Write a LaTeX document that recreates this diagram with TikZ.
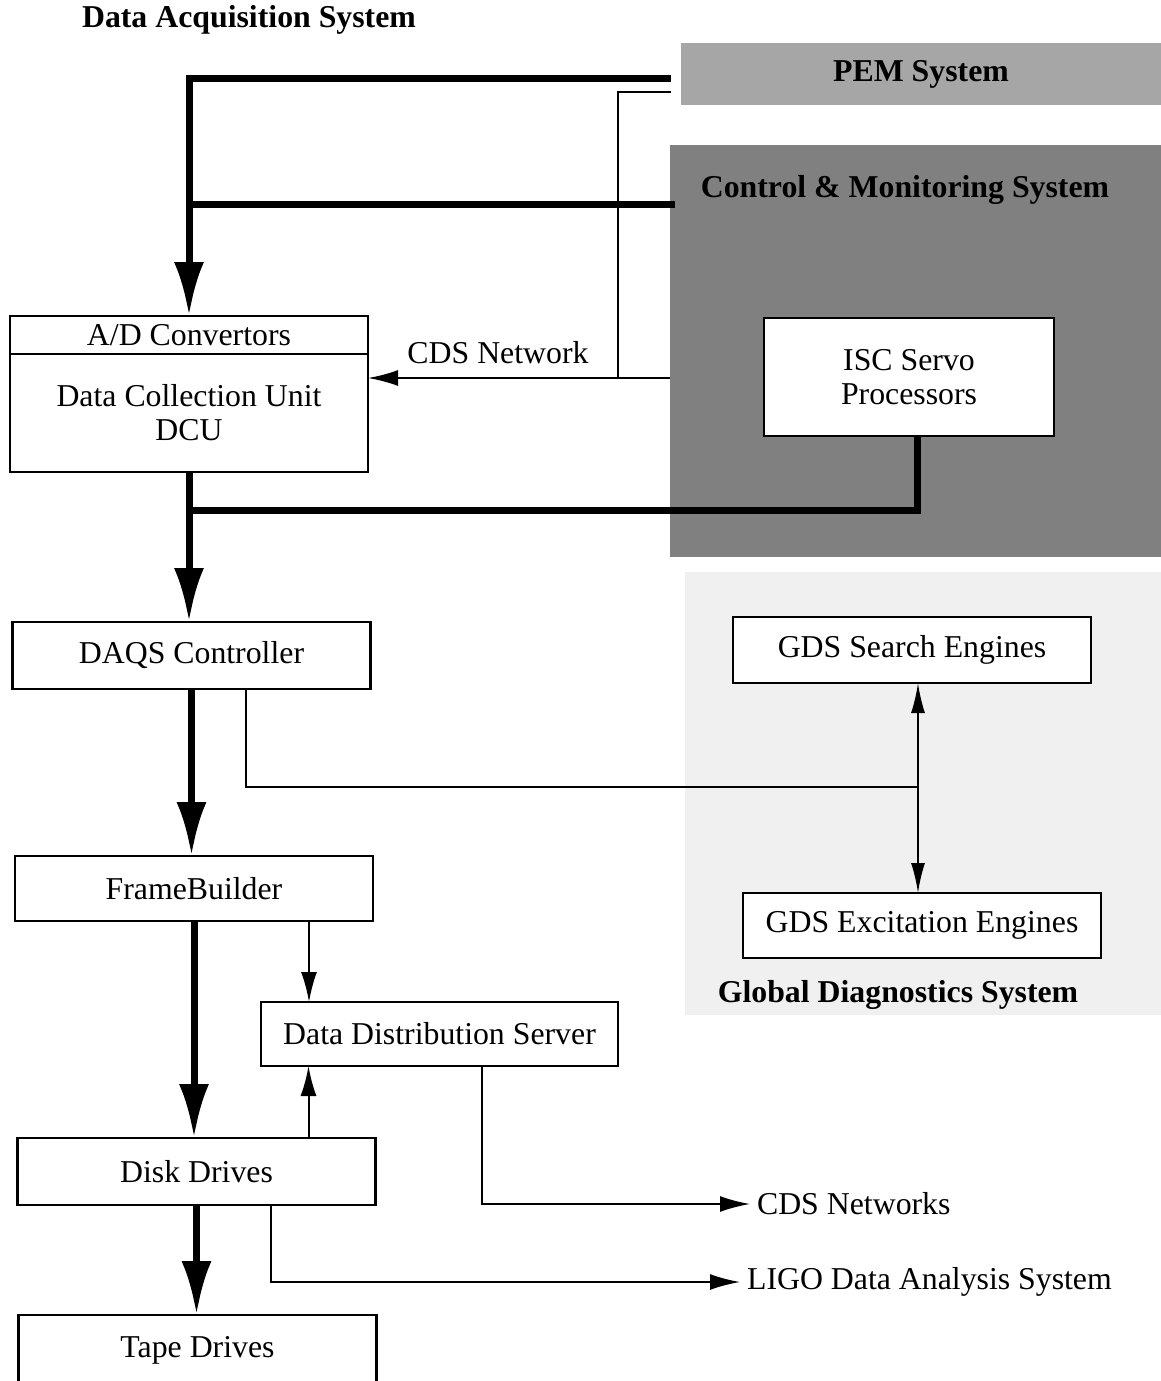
\documentclass[tikz,border=0pt]{standalone}
\usepackage{fontspec}
\setmainfont{Liberation Serif}
\usetikzlibrary{arrows.meta,positioning}

\begin{document}
\begin{tikzpicture}[x=0.5pt,y=-0.5pt,
    font=\fontsize{15.9}{17}\selectfont,
    box/.style={draw, line width=1.3pt, fill=white, outer sep=0pt, inner sep=0pt,
                minimum width=179pt, minimum height=33pt, align=center},
    area/.style={draw=none, inner sep=0pt},
    heading/.style={font=\fontsize{15.9}{17}\selectfont\bfseries},
    bus/.style={line width=3.5pt},
    net/.style={line width=1pt},
    bigtip/.style={-{Latex[length=27pt,width=15pt]}},
    tip/.style={-{Latex[length=15pt,width=8pt]}}]
      \useasboundingbox (0,0) rectangle (1161,1381);

      \node[heading] (daqtitle) at (249,20) {Data Acquisition System};
      \node[area, heading, fill=black!35, minimum width=240pt, minimum height=31pt] (pem) at (921,74) {PEM System};
      \node[area, fill=black!50, minimum width=245.5pt, minimum height=206pt] (cms) at (915.5,351) {};
      \node[heading] (cmstitle) at (905,190) {Control \& Monitoring System};
      \node[area, fill=black!6, minimum width=238pt, minimum height=221.5pt] (gds) at (923,793.5) {};
      \node[heading] (gdstitle) at (898,995) {Global Diagnostics System};

      \node[box, minimum height=19pt] (adc) at (189,335) {A/D Convertors};
      \node[box, below=0pt of adc, minimum height=59pt] (dcu) {Data Collection Unit\\DCU};
      \node[box, minimum width=145pt, minimum height=59pt] (isc) at (909,377) {ISC Servo\\Processors};
      \node[box, minimum height=33.5pt] (daqs) at (191.5,655.5) {DAQS Controller};
      \node[box] (gdsse) at (912,650) {GDS Search Engines};
      \node[box, minimum height=32.5pt] (gdsee) at (922,925.5) {GDS Excitation Engines};
      \node[box, minimum height=32.5pt] (fb) at (194,888.5) {FrameBuilder};
      \node[box, minimum width=178.5pt, minimum height=32pt] (dds) at (439.5,1034) {Data Distribution Server};
      \node[box, minimum height=33.5pt] (disk) at (196.5,1171.5) {Disk Drives};
      \node[box, minimum height=35pt] (tape) at (197.5,1350) {Tape Drives};

      \node (cdsnet) at (498,353) {CDS Network};
      \node[anchor=west] (cdsnets) at (750,1204) {CDS Networks};
      \node[anchor=west] (ligo) at (740,1282) {LIGO Data Analysis System};

      \coordinate (cmsbus) at (675,204);
      \coordinate (cmsnet) at (670,378);
      \coordinate (tap) at (618,378);
      \coordinate (dcubus) at (189,510);
      \coordinate (gdsjoin) at (918,787);

      \draw[bus, bigtip] ([xshift=-5pt,yshift=-2pt]pem.west) -| (adc.north);
      \draw[bus] (cmsbus) -- (cmsbus -| adc.north);
      \draw[net] ([xshift=-5pt,yshift=-9pt]pem.west) -| (tap);
      \draw[net, tip] (cmsnet) -- (cmsnet -| dcu.east);
      \draw[bus, bigtip] (dcu.south) -- (dcu.south |- daqs.north);
      \draw[bus] ([xshift=4pt]isc.south) |- (dcubus);
      \draw[bus, bigtip] (daqs.south) -- (daqs.south |- fb.north);
      \draw[net] ([xshift=27pt]daqs.south) |- (gdsjoin);
      \draw[net, {Latex[length=15pt,width=7pt]}-{Latex[length=15pt,width=7pt]}] (gdsjoin |- gdsse.south) -- (gdsjoin |- gdsee.north);
      \draw[bus, bigtip] (fb.south) -- (fb.south |- disk.north);
      \draw[net, tip] ([xshift=57.5pt]fb.south) -- ([xshift=57.5pt]fb.south |- dds.north);
      \draw[net, tip] ([xshift=56pt]disk.north) -- ([xshift=56pt]disk.north |- dds.south);
      \draw[net, tip] ([xshift=21pt]dds.south) |- (cdsnets.west);
      \draw[bus, bigtip] (disk.south) -- (disk.south |- tape.north);
      \draw[net, tip] ([xshift=37pt]disk.south) |- (ligo.west);
    \end{tikzpicture}
\end{document}
